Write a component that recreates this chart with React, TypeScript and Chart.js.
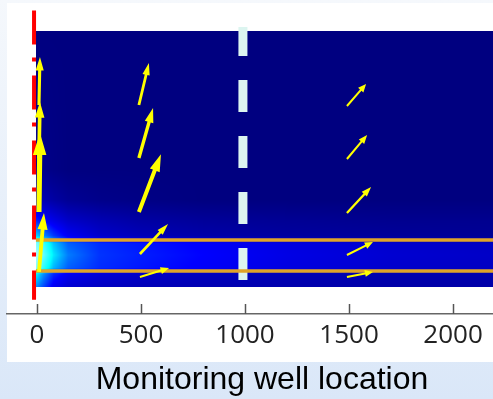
import React, { useEffect, useRef } from "react";
import { Chart, registerables } from "chart.js";

Chart.register(...registerables);

// ---------- data ----------
const X_TICKS = [0, 500, 1000, 1500, 2000];
const X_MIN = -144;
const X_MAX = 2192;
const Y_MIN = -10.55;
const Y_MAX = 110.94;
const X_TITLE = "Monitoring well location";

// concentration field (grid of values)
const fieldX = [-5, 30, 80, 150, 300, 500, 800, 1200, 1700, 2200];
const fieldY = [0, 5, 7.5, 12.5, 17, 20, 26, 34, 46, 100];
const fieldV = [
  [0.45, 0.35, 0.22, 0.16, 0.13, 0.11, 0.1, 0.09, 0.08, 0.08],
  [0.6, 0.45, 0.3, 0.22, 0.17, 0.14, 0.12, 0.1, 0.09, 0.09],
  [0.85, 0.7, 0.5, 0.38, 0.31, 0.28, 0.24, 0.19, 0.15, 0.13],
  [0.92, 0.8, 0.57, 0.42, 0.32, 0.29, 0.25, 0.2, 0.16, 0.14],
  [0.85, 0.72, 0.52, 0.38, 0.31, 0.28, 0.24, 0.19, 0.15, 0.13],
  [0.55, 0.45, 0.33, 0.23, 0.15, 0.11, 0.08, 0.06, 0.05, 0.04],
  [0.3, 0.25, 0.2, 0.14, 0.1, 0.07, 0.05, 0.04, 0.03, 0.03],
  [0.12, 0.1, 0.07, 0.04, 0.02, 0.01, 0, 0, 0, 0],
  [0.03, 0.02, 0.01, 0, 0, 0, 0, 0, 0, 0],
  [0, 0, 0, 0, 0, 0, 0, 0, 0, 0],
];

// layer boundaries
const layerX = [-5, 2200];
const layerUpperY = 18.4;
const layerLowerY = 6.25;

// injection well (red) and monitoring well (white)
const wellX = -14;
const wellY = [108, -5];
const monitorX = 990;
const monitorY = [101.6, 2.7];

// velocity arrows: tail and tip
const arrowTailX = [9.6, 9.6, 9.6, 9.6, 490, 490, 490, 495, 495, 1490, 1490, 1490, 1490, 1490];
const arrowTailY = [71.1, 50.4, 29.3, 5.9, 71.1, 50.4, 29.3, 12.9, 3.9, 70.7, 50.0, 28.9, 12.5, 3.9];
const arrowTipX = [14.4, 14.4, 14.4, 33.7, 538, 558, 596, 630, 635, 1582, 1587, 1606, 1615, 1615];
const arrowTipY = [89.8, 72.3, 60.2, 28.9, 87.5, 69.9, 51.9, 24.6, 7.4, 79.3, 59.4, 39.1, 17.6, 5.9];

// ---------- helpers ----------
const CMAP: number[][] = [
  [0, 0, 0, 128],
  [0.25, 0, 0, 255],
  [0.6, 0, 255, 255],
  [1, 210, 255, 255],
];
function colorOf(v: number): number[] {
  v = Math.max(0, Math.min(1, v));
  for (let i = 0; i < CMAP.length - 1; i++) {
    const a = CMAP[i], b = CMAP[i + 1];
    if (v <= b[0]) {
      const t = (v - a[0]) / (b[0] - a[0]);
      return [a[1] + (b[1] - a[1]) * t, a[2] + (b[2] - a[2]) * t, a[3] + (b[3] - a[3]) * t];
    }
  }
  const l = CMAP[CMAP.length - 1];
  return [l[1], l[2], l[3]];
}
function locate(arr: number[], v: number): [number, number] {
  if (v <= arr[0]) return [0, 0];
  if (v >= arr[arr.length - 1]) return [arr.length - 2, 1];
  for (let k = 0; k < arr.length - 1; k++) {
    if (v <= arr[k + 1]) return [k, (v - arr[k]) / (arr[k + 1] - arr[k])];
  }
  return [arr.length - 2, 1];
}

const backgroundPlugin = {
  id: "bg",
  beforeDraw(chart: any) {
    const { ctx, width, height } = chart;
    ctx.save();
    const g = ctx.createLinearGradient(0, 0, 0, height);
    g.addColorStop(0, "#f5f8fc");
    g.addColorStop(1, "#dae7f8");
    ctx.fillStyle = g;
    ctx.fillRect(0, 0, width, height);
    ctx.fillStyle = "#ffffff";
    ctx.fillRect(7, 3, width - 7, 359);
    ctx.restore();
  },
};

const fieldPlugin = {
  id: "field",
  beforeDatasetsDraw(chart: any) {
    const { ctx, chartArea, scales } = chart;
    const xs = scales.x, ys = scales.y;
    const left = Math.round(xs.getPixelForValue(fieldX[0]));
    const right = Math.round(Math.min(chartArea.right, xs.getPixelForValue(fieldX[fieldX.length - 1])));
    const top = Math.round(ys.getPixelForValue(fieldY[fieldY.length - 1]));
    const bottom = Math.round(ys.getPixelForValue(fieldY[0]));
    const w = right - left, h = bottom - top;
    const off = document.createElement("canvas");
    off.width = w;
    off.height = h;
    const octx = off.getContext("2d")!;
    const img = octx.createImageData(w, h);
    for (let j = 0; j < h; j++) {
      const yv = ys.getValueForPixel(top + j + 0.5);
      const [r, ty] = locate(fieldY, yv);
      for (let i = 0; i < w; i++) {
        const xv = xs.getValueForPixel(left + i + 0.5);
        const [c, tx] = locate(fieldX, xv);
        const v00 = fieldV[r][c], v01 = fieldV[r][c + 1];
        const v10 = fieldV[r + 1][c], v11 = fieldV[r + 1][c + 1];
        const v = (v00 * (1 - tx) + v01 * tx) * (1 - ty) + (v10 * (1 - tx) + v11 * tx) * ty;
        const col = colorOf(v);
        const p = (j * w + i) * 4;
        img.data[p] = col[0];
        img.data[p + 1] = col[1];
        img.data[p + 2] = col[2];
        img.data[p + 3] = 255;
      }
    }
    octx.putImageData(img, 0, 0);
    ctx.save();
    ctx.drawImage(off, left, top);
    ctx.restore();
  },
};

const arrowPlugin = {
  id: "arrows",
  afterDatasetsDraw(chart: any) {
    const { ctx, scales } = chart;
    const xs = scales.x, ys = scales.y;
    ctx.save();
    ctx.fillStyle = "#ffff00";
    for (let i = 0; i < arrowTailX.length; i++) {
      const x0 = xs.getPixelForValue(arrowTailX[i]);
      const y0 = ys.getPixelForValue(arrowTailY[i]);
      const x1 = xs.getPixelForValue(arrowTipX[i]);
      const y1 = ys.getPixelForValue(arrowTipY[i]);
      const dx = x1 - x0, dy = y1 - y0;
      const L = Math.hypot(dx, dy);
      const ux = dx / L, uy = dy / L, nx = -uy, ny = ux;
      const hl = Math.max(8, 0.28 * L);
      const hw = Math.max(7, 0.17 * L) / 2;
      const sw = Math.max(2, 0.065 * L) / 2;
      const bx = x1 - ux * hl, by = y1 - uy * hl;
      ctx.beginPath();
      ctx.moveTo(x0 + nx * sw, y0 + ny * sw);
      ctx.lineTo(bx + nx * sw, by + ny * sw);
      ctx.lineTo(bx + nx * hw, by + ny * hw);
      ctx.lineTo(x1, y1);
      ctx.lineTo(bx - nx * hw, by - ny * hw);
      ctx.lineTo(bx - nx * sw, by - ny * sw);
      ctx.lineTo(x0 - nx * sw, y0 - ny * sw);
      ctx.closePath();
      ctx.fill();
    }
    ctx.restore();
  },
};

const tickMarkPlugin = {
  id: "tickMarks",
  afterDraw(chart: any) {
    const { ctx, chartArea, scales } = chart;
    const xs = scales.x;
    ctx.save();
    ctx.strokeStyle = "#555555";
    ctx.lineWidth = 1.5;
    for (const t of xs.ticks) {
      const px = Math.round(xs.getPixelForValue(t.value)) + 0.5;
      ctx.beginPath();
      ctx.moveTo(px, chartArea.bottom);
      ctx.lineTo(px, chartArea.bottom - 10);
      ctx.stroke();
    }
    ctx.restore();
  },
};

export default function App() {
  const ref = useRef<HTMLCanvasElement>(null);
  useEffect(() => {
    const canvas = ref.current!;
    const seg = (x0: number, y0: number, x1: number, y1: number) => [
      { x: x0, y: y0 },
      { x: x1, y: y1 },
    ];
    const chart = new Chart(canvas, {
      type: "scatter",
      data: {
        datasets: [
          {
            data: seg(layerX[0], layerUpperY, layerX[1], layerUpperY),
            showLine: true,
            borderColor: "#e0a428",
            borderWidth: 3.5,
            pointRadius: 0,
          },
          {
            data: seg(layerX[0], layerLowerY, layerX[1], layerLowerY),
            showLine: true,
            borderColor: "#e0a428",
            borderWidth: 3.5,
            pointRadius: 0,
          },
          {
            data: seg(monitorX, monitorY[0], monitorX, monitorY[1]),
            showLine: true,
            borderColor: "#dcf5f0",
            borderWidth: 9,
            borderDash: [32, 24],
            borderDashOffset: 3,
            pointRadius: 0,
          },
          {
            data: seg(wellX, wellY[0], wellX, wellY[1]),
            showLine: true,
            borderColor: "#ff0000",
            borderWidth: 4,
            borderDash: [34, 13, 4, 14],
            pointRadius: 0,
          },
        ],
      },
      options: {
        responsive: false,
        animation: false,
        events: [],
        layout: { padding: { left: 7, top: 3, right: 0, bottom: 0 } },
        plugins: { legend: { display: false }, tooltip: { enabled: false }, title: { display: false } },
        scales: {
          x: {
            type: "linear",
            min: X_MIN,
            max: X_MAX,
            afterBuildTicks: (scale: any) => {
              scale.ticks = X_TICKS.map((v) => ({ value: v }));
            },
            afterFit: (scale: any) => {
              scale.height = 85;
            },
            grid: { display: false, drawTicks: false },
            border: { display: true, color: "#666666", width: 1.5 },
            ticks: {
              color: "#222222",
              padding: 6,
              maxRotation: 0,
              font: { family: "'Open Sans'", size: 26 },
              callback: (v: any) => String(v),
            },
            title: { display: false },
          },
          y: {
            type: "linear",
            display: false,
            min: Y_MIN,
            max: Y_MAX,
          },
        },
      },
      plugins: [backgroundPlugin, fieldPlugin, arrowPlugin, tickMarkPlugin],
    });
    return () => chart.destroy();
  }, []);
  return (
    <div style={{ position: "fixed", left: 0, top: 0, width: 493, height: 399 }}>
      <canvas ref={ref} width={493} height={399} style={{ display: "block" }} />
      <div
        style={{
          position: "absolute",
          left: 62,
          width: 400,
          top: 359,
          textAlign: "center",
          fontFamily: "'Liberation Sans', Arial, sans-serif",
          fontSize: 32,
          lineHeight: "38px",
          color: "#000000",
          whiteSpace: "nowrap",
        }}
      >
        {X_TITLE}
      </div>
    </div>
  );
}
